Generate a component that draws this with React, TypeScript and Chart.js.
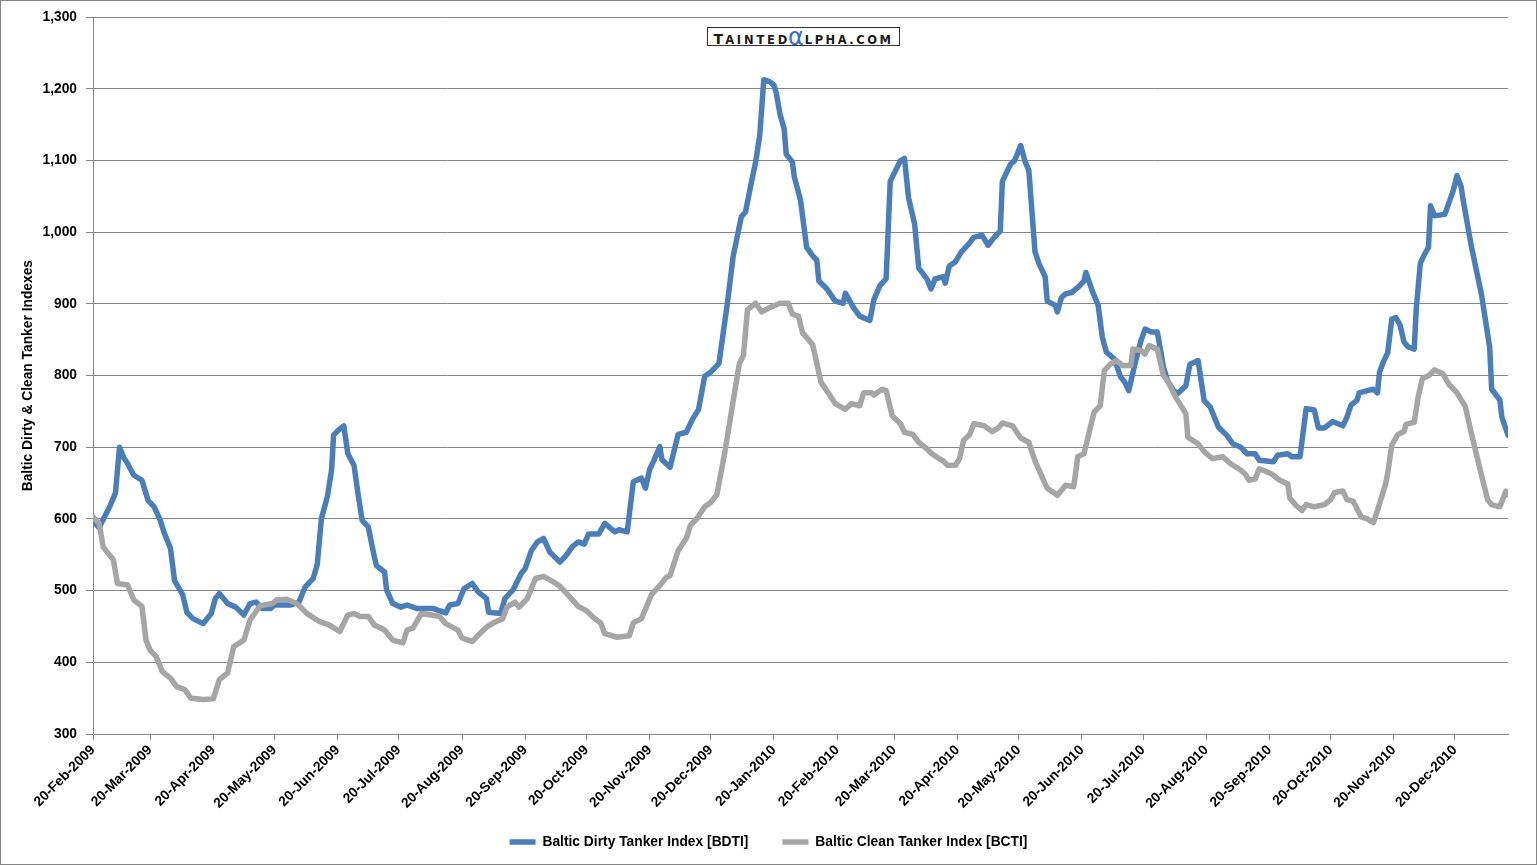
import React, { useEffect, useRef } from 'react';
import { Chart, registerables } from 'chart.js';

Chart.register(...registerables);

// ---------- data ----------
const START_DATE = '2009-02-20'; // day 0 of the day offsets below

const X_TICK_LABELS = [
  '20-Feb-2009', '20-Mar-2009', '20-Apr-2009', '20-May-2009', '20-Jun-2009', '20-Jul-2009',
  '20-Aug-2009', '20-Sep-2009', '20-Oct-2009', '20-Nov-2009', '20-Dec-2009', '20-Jan-2010',
  '20-Feb-2010', '20-Mar-2010', '20-Apr-2010', '20-May-2010', '20-Jun-2010', '20-Jul-2010',
  '20-Aug-2010', '20-Sep-2010', '20-Oct-2010', '20-Nov-2010', '20-Dec-2010',
];

const Y_MIN = 300;
const Y_MAX = 1300;
const Y_STEP = 100;

const BDTI_LABEL = 'Baltic Dirty Tanker Index [BDTI]';
const BCTI_LABEL = 'Baltic Clean Tanker Index [BCTI]';
const Y_TITLE = 'Baltic Dirty & Clean Tanker Indexes';

// Baltic Dirty Tanker Index: days since START_DATE and index values
const BDTI_DAY = [
  0, 3, 8, 11, 13, 15, 17, 20, 24, 27, 30, 33, 35, 38, 40, 44, 46, 49, 54, 58,
  60, 62, 66, 70, 74, 77, 80, 83, 87, 89, 97, 101, 104, 108, 110, 112, 115, 117, 118, 120,
  123, 125, 128, 130, 132, 135, 138, 139, 143, 144, 147, 151, 154, 159, 167, 173, 175, 179, 182, 186,
  189, 193, 194, 200, 202, 206, 210, 212, 215, 218, 221, 224, 229, 232, 235, 238, 241, 243, 248, 251,
  256, 258, 262, 265, 269, 271, 273, 275, 278, 279, 283, 287, 291, 294, 297, 300, 303, 307, 311, 314,
  318, 320, 323, 325, 327, 329, 332, 334, 335, 337, 339, 340, 343, 344, 347, 350, 353, 355, 356, 360,
  364, 368, 369, 373, 376, 381, 383, 386, 389, 391, 396, 398, 400, 403, 405, 409, 411, 413, 417, 418,
  420, 423, 426, 429, 432, 436, 439, 442, 445, 446, 450, 452, 455, 457, 459, 462, 464, 467, 468, 472,
  473, 475, 477, 480, 483, 486, 487, 490, 493, 495, 497, 501, 504, 506, 508, 511, 514, 516, 519, 522,
  525, 527, 530, 532, 536, 538, 542, 545, 548, 552, 556, 559, 563, 566, 570, 572, 579, 581, 586, 588,
  592, 595, 599, 601, 604, 608, 613, 615, 617, 620, 621, 625, 628, 630, 631, 633, 635, 637, 639, 641,
  643, 645, 648, 649, 651, 653, 655, 656, 658, 663, 667, 669, 671, 672, 676, 681, 685, 686, 690, 691,
  694,
];
const BDTI_VALUE = [
  597, 588, 616, 636, 700, 686, 677, 661, 654, 626, 617, 598, 580, 559, 514, 494, 470, 461, 454, 468,
  489, 496, 482, 477, 466, 482, 484, 475, 475, 480, 480, 484, 505, 517, 537, 600, 632, 668, 717, 723,
  730, 691, 675, 635, 598, 589, 547, 535, 526, 501, 482, 477, 480, 475, 475, 469, 480, 482, 503, 510,
  498, 489, 470, 468, 489, 501, 524, 531, 556, 568, 573, 554, 540, 549, 561, 568, 565, 579, 579, 594,
  582, 585, 582, 652, 657, 643, 669, 681, 701, 683, 672, 718, 721, 739, 753, 799, 805, 817, 898, 967,
  1022, 1028, 1071, 1098, 1135, 1213, 1210, 1205, 1196, 1164, 1144, 1109, 1098, 1077, 1045, 979, 967, 961, 932, 921,
  904, 901, 915, 895, 883, 877, 906, 926, 935, 1071, 1100, 1103, 1048, 1011, 950, 935, 921, 935, 938, 929,
  953, 959, 973, 982, 993, 996, 982, 993, 1002, 1071, 1095, 1100, 1121, 1100, 1086, 973, 956, 938, 904, 898,
  889, 909, 914, 916, 923, 932, 944, 919, 898, 854, 833, 823, 798, 791, 779, 816, 849, 865, 861, 861,
  812, 793, 779, 775, 786, 816, 821, 765, 756, 728, 717, 705, 700, 691, 691, 682, 680, 689, 691, 687,
  687, 754, 752, 727, 727, 736, 730, 742, 759, 766, 776, 779, 781, 776, 805, 820, 832, 879, 881, 871,
  847, 840, 837, 893, 957, 969, 979, 1037, 1023, 1025, 1057, 1079, 1064, 1045, 981, 913, 840, 781, 766, 742,
  717,
];

// Baltic Clean Tanker Index: days since START_DATE and index values
const BCTI_DAY = [
  0, 3, 5, 10, 12, 17, 20, 24, 26, 28, 31, 34, 38, 41, 45, 48, 54, 59, 62, 66,
  69, 74, 77, 82, 88, 90, 95, 100, 105, 111, 116, 121, 125, 128, 131, 135, 138, 143, 147, 152,
  154, 157, 161, 166, 170, 173, 179, 181, 186, 189, 193, 197, 201, 203, 207, 209, 213, 217, 221, 226,
  229, 233, 238, 242, 246, 249, 251, 257, 263, 265, 269, 274, 278, 281, 283, 287, 291, 293, 296, 300,
  303, 306, 310, 314, 317, 319, 321, 325, 328, 332, 337, 341, 343, 346, 348, 353, 355, 357, 362, 364,
  369, 372, 376, 378, 382, 383, 387, 389, 392, 396, 398, 402, 405, 409, 411, 414, 417, 419, 423, 425,
  427, 430, 432, 437, 441, 444, 446, 451, 455, 459, 462, 467, 468, 473, 477, 481, 483, 486, 488, 491,
  494, 496, 499, 502, 505, 509, 510, 514, 516, 518, 522, 525, 527, 531, 536, 537, 542, 545, 549, 554,
  558, 563, 565, 567, 570, 572, 578, 582, 586, 587, 590, 593, 595, 599, 604, 607, 609, 613, 615, 618,
  622, 625, 628, 630, 634, 635, 637, 640, 643, 644, 648, 650, 652, 655, 658, 662, 665, 669, 673, 677,
  681, 684, 686, 690, 693, 694,
];
const BCTI_VALUE = [
  603, 594, 561, 543, 510, 508, 487, 478, 431, 417, 408, 387, 378, 366, 362, 350, 348, 349, 376, 385,
  422, 431, 459, 479, 482, 487, 488, 482, 468, 457, 452, 443, 466, 468, 464, 464, 452, 445, 431, 427,
  445, 448, 468, 466, 464, 454, 445, 434, 429, 438, 449, 456, 461, 477, 484, 477, 489, 517, 520, 512,
  506, 494, 478, 472, 461, 455, 440, 435, 437, 455, 461, 495, 507, 518, 521, 556, 573, 591, 600, 617,
  623, 634, 695, 765, 817, 828, 892, 901, 889, 895, 901, 901, 886, 883, 860, 843, 817, 791, 770, 761,
  753, 761, 758, 776, 776, 773, 781, 779, 744, 733, 721, 718, 707, 698, 692, 686, 681, 675, 675, 684,
  710, 718, 733, 730, 722, 727, 734, 730, 713, 707, 681, 649, 643, 633, 647, 645, 687, 691, 714, 749,
  758, 807, 816, 821, 814, 814, 837, 835, 830, 842, 837, 800, 793, 770, 747, 714, 705, 694, 684, 687,
  677, 668, 663, 654, 656, 670, 663, 654, 649, 629, 619, 612, 620, 617, 620, 627, 637, 639, 627, 625,
  603, 600, 595, 612, 649, 664, 703, 718, 722, 732, 735, 771, 796, 800, 808, 803, 788, 776, 757, 708,
  661, 627, 620, 617, 639, 634,
];

// ---------- styling ----------
const BLUE = '#4a7ebb';
const GRAY = '#a5a5a5';
const AXIS = '#868686';
const FONT_FAMILY = '"Liberation Sans", Arial, sans-serif';
const FONT_SIZE = 13.8;

const MONTHS: Record<string, number> = {
  Jan: 0, Feb: 1, Mar: 2, Apr: 3, May: 4, Jun: 5, Jul: 6, Aug: 7, Sep: 8, Oct: 9, Nov: 10, Dec: 11,
};

function dayOffset(label: string): number {
  const [d, m, y] = label.split('-');
  const [sy, sm, sd] = START_DATE.split('-').map(Number);
  return Math.round((Date.UTC(+y, MONTHS[m], +d) - Date.UTC(sy, sm - 1, sd)) / 86400000);
}

const framePlugin = {
  id: 'frame',
  afterDraw(chart: any) {
    const { ctx, width, height } = chart;
    ctx.save();
    ctx.strokeStyle = AXIS;
    ctx.lineWidth = 1;
    ctx.strokeRect(0.5, 0.5, width - 1, height - 1);
    ctx.restore();
  },
};

export default function App() {
  const canvasRef = useRef<HTMLCanvasElement>(null);

  useEffect(() => {
    const canvas = canvasRef.current;
    if (!canvas) return;
    const tickDays = X_TICK_LABELS.map(dayOffset);
    const toPoints = (days: number[], vals: number[]) => days.map((d, i) => ({ x: d, y: vals[i] }));
    const lastDay = Math.max(BDTI_DAY[BDTI_DAY.length - 1], BCTI_DAY[BCTI_DAY.length - 1]);
    const font = { family: FONT_FAMILY, size: FONT_SIZE, weight: 'bold' as const };

    const chart = new Chart(canvas, {
      type: 'line',
      data: {
        datasets: [
          {
            label: BDTI_LABEL,
            data: toPoints(BDTI_DAY, BDTI_VALUE),
            borderColor: BLUE,
            backgroundColor: BLUE,
            borderWidth: 5.5,
            pointRadius: 0,
            tension: 0,
            borderCapStyle: 'round',
            borderJoinStyle: 'round',
            pointStyle: 'line',
            order: 1,
          },
          {
            label: BCTI_LABEL,
            data: toPoints(BCTI_DAY, BCTI_VALUE),
            borderColor: GRAY,
            backgroundColor: GRAY,
            borderWidth: 5.5,
            pointRadius: 0,
            tension: 0,
            borderCapStyle: 'round',
            borderJoinStyle: 'round',
            pointStyle: 'line',
            order: 0,
          },
        ],
      },
      options: {
        responsive: false,
        animation: false,
        events: [],
        layout: { padding: { left: 0, right: 0, top: 16, bottom: 6.1 } },
        scales: {
          x: {
            type: 'linear',
            min: 0,
            max: lastDay,
            afterBuildTicks: (s: any) => {
              s.ticks = tickDays.map((v) => ({ value: v }));
            },
            afterFit: (s: any) => {
              s.height = 67.1;
              // let the rotated date labels run below the axis box, as in the original
              s._computeLabelArea = () => null;
            },
            ticks: {
              autoSkip: false,
              maxRotation: 45,
              minRotation: 45,
              padding: 2,
              color: '#000',
              font,
              callback: (v: any) => {
                const i = tickDays.indexOf(Number(v));
                return i >= 0 ? X_TICK_LABELS[i] : '';
              },
            },
            grid: { drawOnChartArea: false, drawTicks: true, tickLength: 6, color: AXIS, lineWidth: 1 },
            border: { display: true, color: AXIS, width: 1 },
          },
          y: {
            min: Y_MIN,
            max: Y_MAX,
            afterFit: (s: any) => {
              s.width = 93;
            },
            ticks: {
              stepSize: Y_STEP,
              padding: 9,
              color: '#000',
              font,
              callback: (v: any) => Number(v).toLocaleString('en-US'),
            },
            grid: { color: AXIS, lineWidth: 1, tickLength: 7 },
            border: { display: true, color: AXIS, width: 1 },
            title: {
              display: true,
              text: Y_TITLE,
              color: '#000',
              font,
              padding: { top: 19.7, bottom: 0 },
            },
          },
          yRight: {
            position: 'right',
            display: true,
            afterFit: (s: any) => {
              s.width = 29;
            },
            ticks: { display: false },
            grid: { display: false },
            border: { display: false },
          },
        },
        plugins: {
          legend: {
            position: 'bottom',
            labels: {
              usePointStyle: true,
              pointStyle: 'line',
              pointStyleWidth: 26,
              padding: 34,
              color: '#000',
              font,
              sort: (a: any, b: any) => a.datasetIndex - b.datasetIndex,
            },
          },
          tooltip: { enabled: false },
        },
      } as any,
      plugins: [framePlugin],
    });
    return () => chart.destroy();
  }, []);

  return (
    <div style={{ position: 'fixed', left: 0, top: 0, width: 1537, height: 865, background: '#fff' }}>
      <canvas ref={canvasRef} width={1537} height={865} style={{ display: 'block' }} />
      <div
        style={{
          position: 'absolute',
          left: 707,
          top: 27,
          width: 191,
          height: 17,
          border: '1px solid #333',
          background: '#fff',
          display: 'flex',
          alignItems: 'baseline',
          justifyContent: 'center',
          fontFamily: '"DejaVu Sans", sans-serif',
          fontWeight: 'bold',
          color: '#1a1a1a',
          lineHeight: '17px',
          overflow: 'hidden',
          whiteSpace: 'nowrap',
        }}
      >
        <span style={{ fontSize: 14, letterSpacing: 2 }}>T</span>
        <span style={{ fontSize: 11.5, letterSpacing: 2.8 }}>AINTED</span>
        <span style={{ fontSize: 24, color: '#3d6fc4', fontWeight: 'normal', marginLeft: -2, marginRight: 1, position: 'relative', top: 1 }}>α</span>
        <span style={{ fontSize: 11.5, letterSpacing: 2.5 }}>LPHA.COM</span>
      </div>
    </div>
  );
}
